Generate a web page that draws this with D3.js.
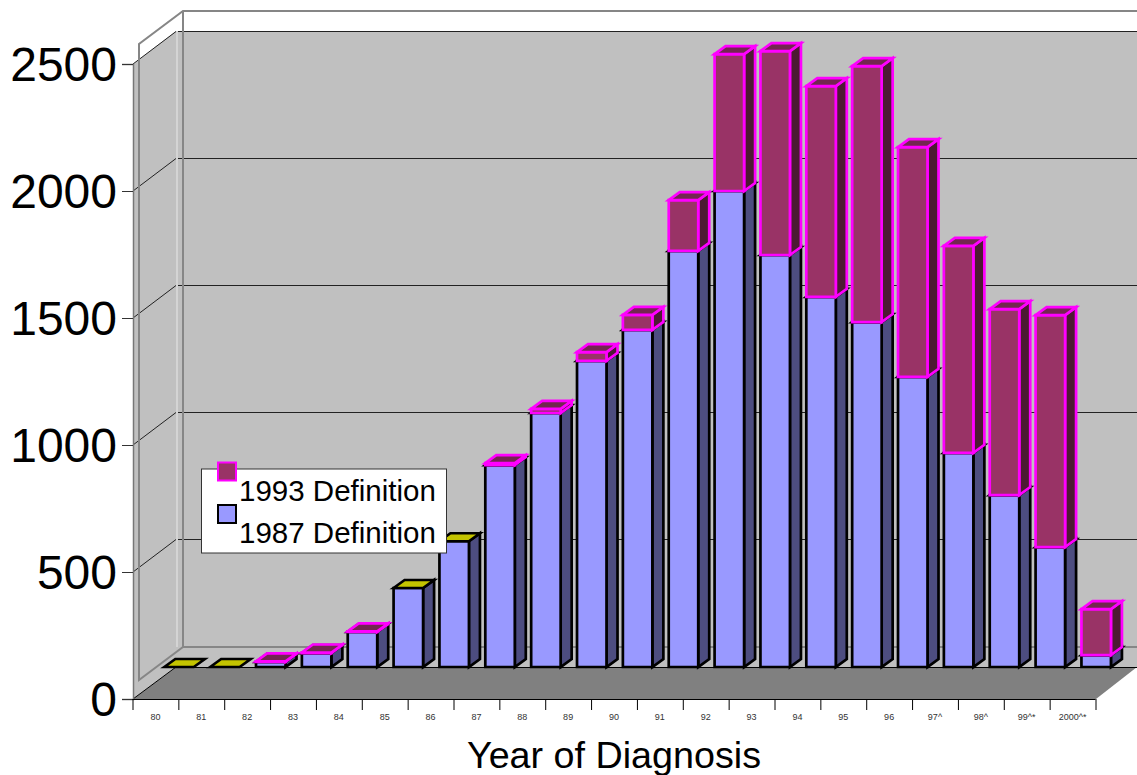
<!DOCTYPE html>
<html lang="en">
<head>
<meta charset="UTF-8">
<title>Year of Diagnosis</title>
<script src="https://d3js.org/d3.v7.min.js"></script>
<style>
    html, body { margin: 0; padding: 0; background: #fff; overflow: hidden; }
    svg { display: block; }
    text { font-family: "Liberation Sans", Arial, sans-serif; }
</style>
</head>
<body>
<div id="chart"></div>
<script>
// values
const years = ["80","81","82","83","84","85","86","87","88","89","90","91","92","93","94","95","96","97^","98^","99^*","2000^*"];
const def1987 = [0,0,20,55,138,311,495,795,1000,1205,1327,1638,1874,1622,1457,1358,1142,843,677,472,47];
const def1993 = [0,0,2,2,2,0,0,8,16,35,59,200,539,803,830,1008,905,815,732,913,181];
const yTicks = [0,500,1000,1500,2000,2500];
const legendItems = ["1993 Definition","1987 Definition"];

const width = 1137, height = 775;
const left = 133, right = 1096, front = 699;
const depthX = 43, depthY = 32;       // floor / wall depth
const barDX = 11, barDY = 8;          // bar depth

const svg = d3.select("#chart").append("svg")
    .attr("width", width)
    .attr("height", height);

const x = d3.scaleLinear().domain([0, years.length]).range([left, right]);
const y = d3.scaleLinear().domain([0, 2500]).range([front, 64]);
const step = x(1) - x(0);
const barW = 29.5, barOff = 31.3;
const barY = v => y(v) - depthY;      // bars stand on the back edge of the floor

const pts = a => a.map(p => p.join(",")).join(" ");

// walls
svg.append("polygon")
    .attr("points", pts([[left, y(2500)], [left + depthX, y(2500) - depthY - 1], [left + depthX, front - depthY], [left, front]]))
    .attr("fill", "#c0c0c0");
svg.append("rect")
    .attr("x", left + depthX).attr("y", y(2500) - depthY - 1)
    .attr("width", width - left - depthX).attr("height", front - y(2500) + 1)
    .attr("fill", "#c0c0c0");

// floor
svg.append("polygon")
    .attr("points", pts([[left, front], [left + depthX, front - depthY], [width, front - depthY], [right, front]]))
    .attr("fill", "#808080");

// grid lines, side wall and back wall
yTicks.forEach(t => {
    if (t > 0) {
        svg.append("polyline")
            .attr("points", pts([[left, y(t)], [left + depthX, y(t) - 32.5], [width, y(t) - 32.5]]))
            .attr("fill", "none")
            .attr("stroke", "#222")
            .attr("stroke-width", 1);
    }
});
svg.append("line")
    .attr("x1", left).attr("y1", front).attr("x2", left + depthX).attr("y2", front - depthY)
    .attr("stroke", "#000");
svg.append("line")
    .attr("x1", left + depthX).attr("y1", front - depthY + 0.5).attr("x2", width).attr("y2", front - depthY + 0.5)
    .attr("stroke", "#000");

// grey outer frame
svg.append("line")
    .attr("x1", 177).attr("y1", 31).attr("x2", 177).attr("y2", 647)
    .attr("stroke", "#d4d4d4").attr("stroke-width", 2);
svg.append("polyline")
    .attr("points", pts([[width, 647], [183, 647], [139, 680], [139, 44], [183, 11], [width, 11]]))
    .attr("fill", "none").attr("stroke", "#868686").attr("stroke-width", 2);
svg.append("line")
    .attr("x1", 183).attr("y1", 11).attr("x2", 183).attr("y2", 647)
    .attr("stroke", "#868686").attr("stroke-width", 2);

// 3d block: front, side and top faces
function block(g, x0, y0, y1, c) {
    const w = barW, dx = barDX, dy = barDY;
    const face = (points, fill) => {
        g.append("polygon").attr("points", pts(points)).attr("fill", fill)
            .attr("stroke", c.stroke).attr("stroke-width", 2.7).attr("stroke-linejoin", "miter");
    };
    if (y0 - y1 > 0) {
        face([[x0 + w, y1], [x0 + w + dx, y1 - dy], [x0 + w + dx, y0 - dy], [x0 + w, y0]], c.side);
        face([[x0, y1], [x0 + w, y1], [x0 + w, y0], [x0, y0]], c.front);
    }
    face([[x0, y1], [x0 + dx, y1 - dy], [x0 + w + dx, y1 - dy], [x0 + w, y1]], c.top);
}

const blue = { stroke: "#000", front: "#9999ff", side: "#4d4d80", top: "#c4c400" };
const plum = { stroke: "#ff00ff", front: "#993366", side: "#4d1a33", top: "#732650" };

const bars = svg.append("g");
years.forEach((yr, i) => {
    const x0 = x(i) + barOff;
    const a = def1987[i], b = def1993[i];
    block(bars, x0, barY(0), barY(a), blue);
    if (b > 0) block(bars, x0, barY(a), barY(a + b), plum);
});

// axes
const yAxis = d3.axisLeft(y).tickValues(yTicks).tickSize(11).tickPadding(5).tickFormat(d3.format("d"));
const gy = svg.append("g").attr("transform", `translate(${left},0)`).call(yAxis);
gy.select(".domain").attr("stroke", "#777").attr("stroke-width", 1.5);
gy.selectAll(".tick line").attr("stroke", "#333");
gy.selectAll("text")
    .attr("y", 1.5)
    .attr("font-size", 48).attr("fill", "#000")
    .attr("font-family", '"Liberation Sans", Arial, sans-serif');

const xAxis = d3.axisBottom(x).tickValues(d3.range(years.length + 1)).tickSize(11).tickSizeOuter(0)
    .tickFormat(i => years[i] || "");
const gx = svg.append("g").attr("transform", `translate(-0.5,${front})`).call(xAxis);
gx.select(".domain").attr("stroke", "#000").attr("d", `M${left},0.5H${right}`);
gx.selectAll(".tick line").attr("stroke", "#000");
gx.selectAll("text")
    .attr("x", step / 2 - 0.5).attr("y", 15)
    .attr("font-size", 9).attr("fill", "#333")
    .attr("font-family", '"Liberation Sans", Arial, sans-serif');

// axis title
svg.append("text")
    .attr("x", 614).attr("y", 768)
    .attr("text-anchor", "middle")
    .attr("font-size", 37.7)
    .attr("fill", "#000")
    .text("Year of Diagnosis");

// legend
const legend = svg.append("g");
legend.append("rect")
    .attr("x", 201.5).attr("y", 469).attr("width", 245).attr("height", 84)
    .attr("fill", "#fff").attr("stroke", "#333").attr("stroke-width", 1);
[plum, blue].forEach((c, i) => {
    legend.append("rect")
        .attr("x", 218).attr("y", 462.5 + i * 42.5).attr("width", 18).attr("height", 18)
        .attr("fill", c.front).attr("stroke", c.stroke).attr("stroke-width", 2);
    legend.append("text")
        .attr("x", 239).attr("y", 501 + i * 42)
        .attr("font-size", 29.5).attr("fill", "#000")
        .text(legendItems[i]);
});
</script>
</body>
</html>
